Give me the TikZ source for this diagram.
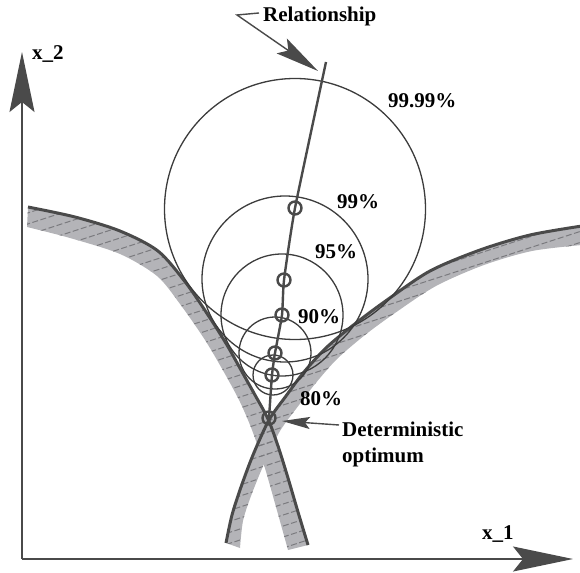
\documentclass[tikz,border=0pt]{standalone}
\usepackage{fontspec}
\setmainfont{Liberation Serif}
\usetikzlibrary{arrows.meta}
\definecolor{cdark}{RGB}{74,74,74}
\definecolor{cband}{RGB}{180,180,184}
\definecolor{chatch}{RGB}{122,122,126}
\definecolor{cring}{RGB}{60,60,60}
\begin{document}
\begin{tikzpicture}[x=1pt,y=-1pt,
  constr/.style={draw=cdark, line width=3pt},
  bandfill/.style={fill=cband},
  hatch/.style={draw=chatch, line width=1pt, dash pattern=on 6pt off 2.5pt},
  ring/.style={draw=cring, line width=1.3pt, circle, inner sep=0pt},
  dot/.style={draw=cdark, line width=2.4pt, circle, inner sep=0pt, minimum size=13pt},
  rel/.style={draw=cdark, line width=2.4pt},
  lab/.style={font=\fontsize{21}{26}\selectfont\bfseries, inner sep=0pt, anchor=base west},
  axis/.style={draw=cdark, line width=1.5pt, -{Stealth[length=60pt,width=25pt,inset=10pt,fill=cdark]}},
  pointer/.style={draw=cdark, line width=1.4pt}
]
\useasboundingbox (0,0) rectangle (580,572);

\def\lineL{(28,207) (75,217) (120,231) (158,251) (186,283) (210,318) (227,345) (241,370) (255,395) (268,419) (278,446) (288,478) (298,512) (308,545)}
\def\lineR{(582,226) (530,235) (480,250) (430,271) (387,300) (356,323) (327,347) (304,372) (286,396) (269,420) (253,455) (241,487) (232,515) (226,543)}
\def\bandL{plot[smooth] coordinates {\lineL}
  -- plot[smooth] coordinates {(288,550) (276,507) (264,465) (252,430) (240,402) (225,374) (205,340) (180,304) (157,276) (120,254) (70,238) (27,227)} -- cycle}
\def\bandR{plot[smooth] coordinates {\lineR}
  -- plot[smooth] coordinates {(240,548) (243,521) (251,496) (264,464) (280,431) (299,405) (315,384) (337,359) (365,335) (395,313) (436,286) (484,265) (532,251) (582,245)} -- cycle}

% bands
\fill[bandfill] \bandL;
\fill[bandfill] \bandR;
\begin{scope}
  \clip \bandL;
  \foreach \c in {200,211,...,760} \draw[hatch] (0,\c) -- (600,{\c-195});
\end{scope}
\begin{scope}
  \clip \bandR;
  \foreach \c in {200,211,...,760} \draw[hatch] (0,\c) -- (600,{\c-195});
\end{scope}

% constraint lines
\draw[constr] plot[smooth] coordinates {\lineL};
\draw[constr] plot[smooth] coordinates {\lineR};

% confidence circles
\node[ring, minimum size=261pt] (c9999) at (295,209) {};
\node[ring, minimum size=166pt] (c99) at (285,279) {};
\node[ring, minimum size=122pt] (c95) at (282,315) {};
\node[ring, minimum size=72pt] (c90) at (275,353) {};
\node[ring, minimum size=40pt] (c80) at (273,375) {};

% relationship points
\node[dot] (p1) at (295,208) {};
\node[dot] (p2) at (284,280) {};
\node[dot] (p3) at (282,315) {};
\node[dot] (p4) at (275,353) {};
\node[dot] (p5) at (272,375) {};
\node[dot] (p6) at (269,418) {};
\coordinate (rtop) at (326,62);
\draw[rel] plot[smooth, tension=0.3] coordinates {(rtop) (p1.center) (p2.center) (p3.center) (p4.center) (p5.center) (p6.center)};

% axes
\coordinate (O) at (22,559);
\coordinate (ytip) at (22,52);
\coordinate (xtip) at (573,559);
\draw[axis] (O) -- (ytip);
\draw[axis] (O) -- (xtip);
\node[lab] (x2) at (32,60) {x\_2};
\node[lab] (x1) at (482,539) {x\_1};

% labels
\node[lab] (relt) at (263,22) {Relationship};
\node[lab] (l9999) at (388,108) {99.99\%};
\node[lab] (l99) at (337,208) {99\%};
\node[lab] (l95) at (315,258) {95\%};
\node[lab] (l90) at (298,323) {90\%};
\node[lab] (l80) at (300,405) {80\%};
\node[lab] (det1) at (342,436) {Deterministic};
\node[lab] (det2) at (342,462) {optimum};

% pointers
\coordinate (rs) at (259,13);
\coordinate (rb) at (237,15);
\coordinate (rtip) at (318,71);
\draw[pointer, -{Stealth[length=44pt,width=18pt,inset=8pt,fill=cdark]}] (rs) -- (rb) -- (rtip);
\coordinate (ds) at (339,425);
\coordinate (dtip) at (282,421);
\draw[pointer, -{Stealth[length=28pt,width=12pt,inset=5pt,fill=cdark]}] (ds) -- (dtip);
\end{tikzpicture}
\end{document}
